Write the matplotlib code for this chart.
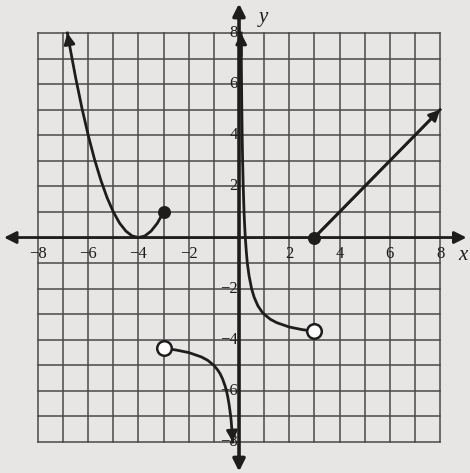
import matplotlib.pyplot as plt

plt.rcParams['font.family'] = ['Liberation Serif', 'DejaVu Serif']

# left piece: parabola-like branch ending in a closed dot at (-3, 1)
left_x = [-6.83, -6.75, -6.5, -6.25, -6.0, -5.75, -5.5, -5.25, -5.0, -4.75, -4.5, -4.25, -4.0,
          -3.75, -3.5, -3.25, -3.0]
left_y = [8.0, 7.56, 6.25, 5.06, 4.0, 3.06, 2.25, 1.56, 1.0, 0.56, 0.25, 0.06, 0.0,
          0.06, 0.25, 0.56, 1.0]

# middle-left branch: open circle at (-3, -4.33), falls to -8 near the y axis
mid_l_x = [-3.0, -2.5, -2.0, -1.5, -1.25, -1.0, -0.85, -0.75, -0.65, -0.55, -0.5, -0.45, -0.4,
           -0.36, -0.33, -0.31, -0.29, -0.27, -0.25]
mid_l_y = [-4.33, -4.4, -4.5, -4.67, -4.8, -5.0, -5.18, -5.33, -5.54, -5.82, -6.0, -6.22, -6.5,
           -6.78, -7.0, -7.2, -7.45, -7.7, -8.0]

# middle-right branch: from the top near the y axis down to the open circle at (3, -3.67)
mid_r_x = [0.083, 0.09, 0.1, 0.11, 0.125, 0.143, 0.167, 0.2, 0.22, 0.25, 0.29, 0.33, 0.4, 0.5,
           0.6, 0.75, 0.9, 1.0, 1.25, 1.5, 2.0, 2.5, 3.0]
mid_r_y = [8.0, 7.1, 6.0, 5.1, 4.0, 3.0, 2.0, 1.0, 0.55, 0.0, -0.55, -1.0, -1.5, -2.0,
           -2.33, -2.67, -2.89, -3.0, -3.2, -3.33, -3.5, -3.6, -3.67]

# ray from the closed dot at (3, 0)
ray_x = [3, 8]
ray_y = [0, 5]

closed_x = [-3, 3]
closed_y = [1, 0]
open_x = [-3, 3]
open_y = [-4.33, -3.67]

ticks = [-8, -6, -4, -2, 2, 4, 6, 8]

ink = '#1e1c1c'
paper = '#e8e6e5'

fig = plt.figure(figsize=(4.70, 4.73), dpi=100, facecolor=paper)
ax = fig.add_axes([0, 0, 1, 1])
ax.set_facecolor(paper)
ax.set_xlim(-9.51, 9.19)
ax.set_ylim(-9.21, 9.29)
ax.axis('off')

# grid
for g in range(-8, 9):
    ax.plot([g, g], [-8, 8], color='#4a4848', lw=1.1, zorder=1)
    ax.plot([-8, 8], [g, g], color='#4a4848', lw=1.1, zorder=1)

# axes with arrows on both ends
ax.annotate('', xy=(9.05, 0), xytext=(-9.35, 0),
            arrowprops=dict(arrowstyle='<|-|>', color=ink, lw=2, mutation_scale=18, shrinkA=0, shrinkB=0),
            zorder=3)
ax.annotate('', xy=(0, 9.15), xytext=(0, -9.15),
            arrowprops=dict(arrowstyle='<|-|>', color=ink, lw=2.6, mutation_scale=18, shrinkA=0, shrinkB=0),
            zorder=3)

# tick labels
for t in ticks:
    ax.text(t, -0.35, str(t).replace('-', '\u2212'), ha='center', va='top', fontsize=12, color=ink, zorder=2)
    ax.text(-0.05, t, str(t).replace('-', '\u2212'), ha='right', va='center', fontsize=12, color=ink, zorder=2)

ax.text(0.95, 8.6, 'y', fontsize=15, style='italic', color=ink, ha='center', va='center')
ax.text(8.9, -0.7, 'x', fontsize=15, style='italic', color=ink, ha='center', va='center')

# curves
ax.plot(left_x, left_y, color=ink, lw=2, zorder=4, solid_joinstyle='round')
ax.plot(mid_l_x, mid_l_y, color=ink, lw=2, zorder=4, solid_joinstyle='round')
ax.plot(mid_r_x, mid_r_y, color=ink, lw=2, zorder=4, solid_joinstyle='round')
ax.plot(ray_x, ray_y, color=ink, lw=2, zorder=4)

# arrowheads at the open ends of the curves
for xs, ys, i in [(left_x, left_y, 0), (mid_l_x, mid_l_y, -1), (mid_r_x, mid_r_y, 0), (ray_x, ray_y, -1)]:
    j = 1 if i == 0 else -2
    ax.annotate('', xy=(xs[i], ys[i]), xytext=(xs[j], ys[j]),
                arrowprops=dict(arrowstyle='-|>', color=ink, lw=2, mutation_scale=16, shrinkA=0, shrinkB=0),
                zorder=4)

ax.scatter(closed_x, closed_y, s=70, color=ink, zorder=5)
ax.scatter(open_x, open_y, s=110, facecolor='white', edgecolor=ink, linewidth=1.8, zorder=5)

fig.savefig('out.png', dpi=100, facecolor=paper)
